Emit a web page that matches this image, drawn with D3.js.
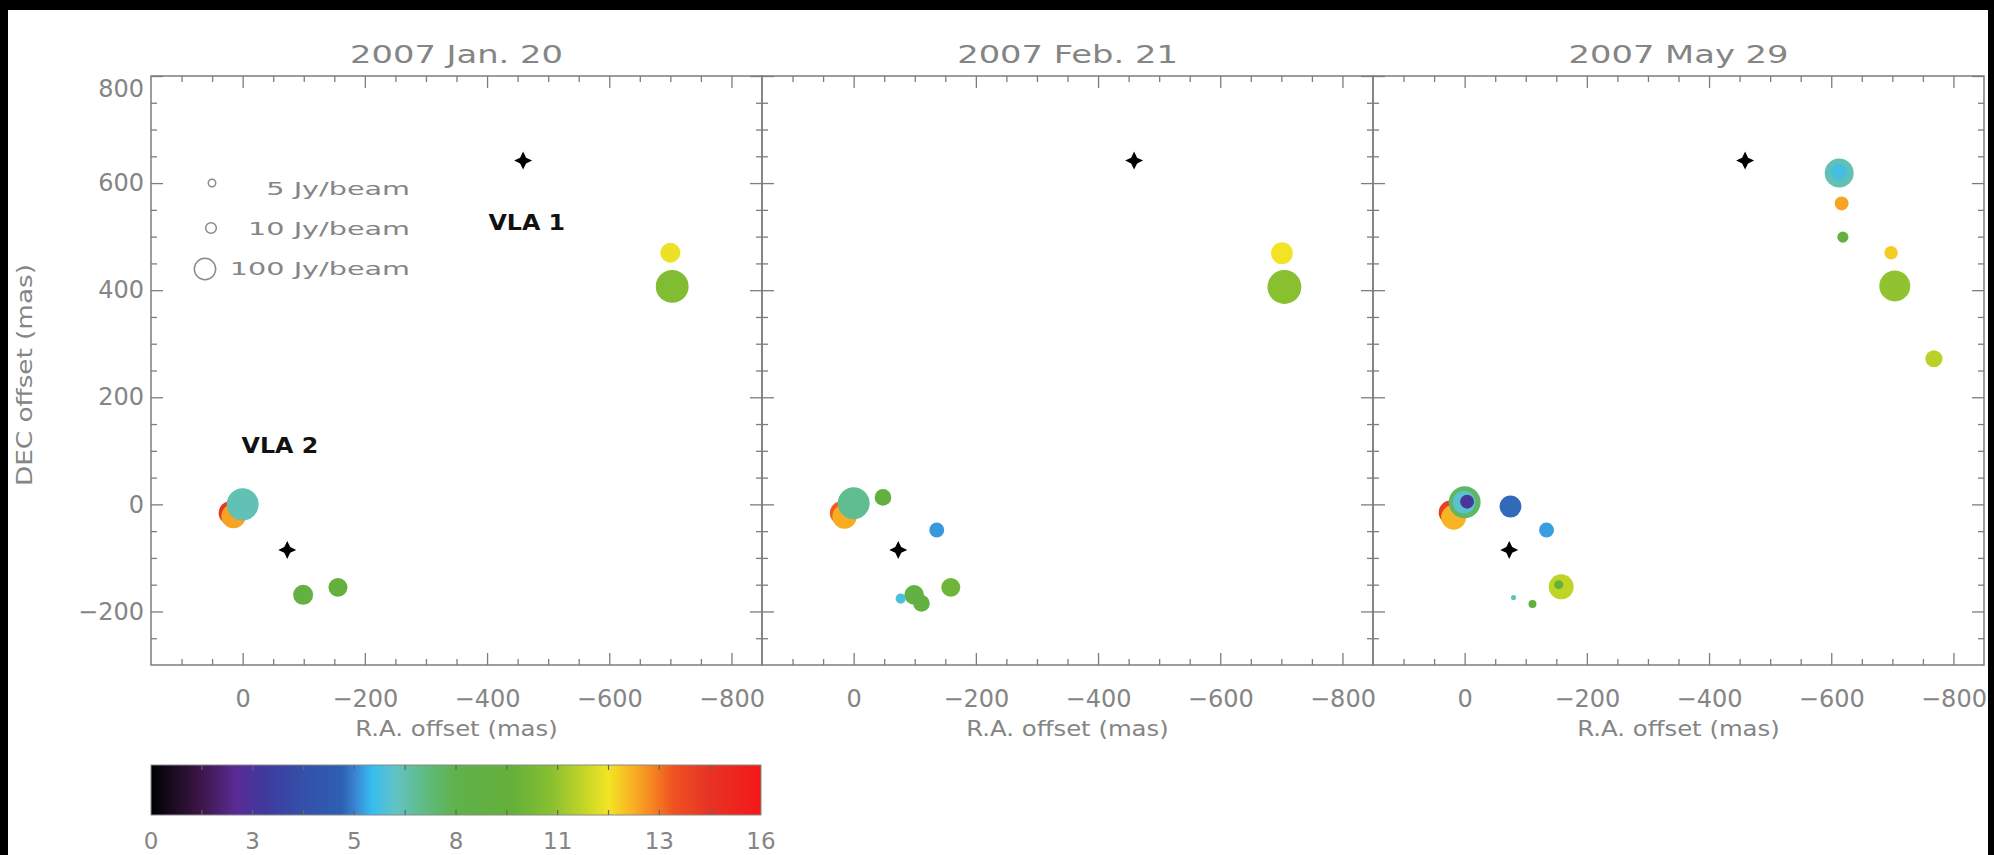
<!DOCTYPE html>
<html>
<head>
<meta charset="utf-8">
<script src="https://cdn.jsdelivr.net/npm/d3@7"></script>
<style>
  html, body { margin: 0; padding: 0; background: #000; }
  svg { display: block; }
  text { font-family: "DejaVu Sans", "Liberation Sans", sans-serif; }
</style>
</head>
<body>
<svg id="chart" width="1994" height="855"></svg>
<script>
// ---- data -------------------------------------------------------------
const epochTitles = ["2007 Jan. 20", "2007 Feb. 21", "2007 May 29"];

// maser spots: [R.A. offset (mas), DEC offset (mas), peak flux (Jy/beam), V_LSR (km/s)]
const spotsJan20 = [
  [-700, 470, 75, 11.9],
  [-703, 407, 1200, 10.3],
  [0, 0, 1000, 6.6],
  [20, -16, 160, 14.5],
  [15, -22, 190, 12.8],
  [-99, -169, 75, 8.8],
  [-156, -155, 60, 9.2]
];
const spotsFeb21 = [
  [-701, 469, 110, 12.0],
  [-705, 406, 1500, 10.5],
  [0, 2, 1000, 7.0],
  [20, -16, 150, 13.6],
  [15, -23, 190, 12.7],
  [-48, 13, 36, 8.9],
  [-136, -48, 25, 5.5],
  [-77, -176, 9, 6.1],
  [-99, -169, 70, 8.6],
  [-111, -185, 36, 8.8],
  [-159, -155, 60, 9.8]
];
const spotsMay29 = [
  [-613, 619, 520, 6.6],
  [-613, 621, 35, 6.0],
  [-617, 562, 20, 12.8],
  [-619, 499, 11, 9.0],
  [-698, 470, 18, 12.3],
  [-704, 408, 800, 10.6],
  [-768, 272, 40, 11.2],
  [0, 4, 1000, 7.6],
  [1, 4, 130, 6.3],
  [-4, 5, 20, 2.8],
  [23, -15, 170, 14.3],
  [18, -24, 220, 12.6],
  [-75, -4, 110, 5.1],
  [-134, -48, 25, 5.55],
  [-158, -154, 220, 11.3],
  [-154, -150, 7, 9.3],
  [-80, -174, 3, 6.6],
  [-111, -186, 5.6, 8.9]
];
const epochSpots = [spotsJan20, spotsFeb21, spotsMay29];

// continuum sources
const sourceNames = ["VLA 1", "VLA 2"];
const sourceRA = [-459, -73];
const sourceDEC = [642, -85];

// axis ticks
const raTicks = [0, -200, -400, -600, -800];
const decTicks = [-200, 0, 200, 400, 600, 800];
const legendFluxes = [5, 10, 100];
const velocityTickLabels = ["0", "3", "5", "8", "11", "13", "16"];

// velocity colour table: [km/s, colour]
const velocityColorStops = [
  [0.0, "#000000"], [0.5, "#170a1c"], [1.3, "#3c1548"], [2.2, "#5a2a94"],
  [3.0, "#403a9e"], [4.0, "#3450a8"], [5.0, "#2e5fb2"], [5.4, "#3a8ad8"],
  [5.8, "#35bdf0"], [6.4, "#62c3c6"], [7.2, "#5fbb80"], [8.0, "#5fb24a"],
  [9.5, "#64b03a"], [10.5, "#88c030"], [11.3, "#c0d428"], [12.0, "#f2e424"],
  [12.6, "#f8b424"], [13.2, "#f58020"], [13.7, "#ef5222"], [14.6, "#e63424"],
  [16.0, "#f41818"]
];

// ---- layout -----------------------------------------------------------
const PANEL_W = 611, TOP = 76, BOTTOM = 665, LEFT0 = 151;
const AXIS_GREY = "#7d7d7d", TEXT_GREY = "#858585";

const svg = d3.select("#chart");
svg.append("rect").attr("x", 8).attr("y", 10).attr("width", 1980).attr("height", 845).attr("fill", "#fff");

const y = d3.scaleLinear().domain([-300, 800]).range([BOTTOM, TOP]);
const r = d3.scaleLog().domain([1, 1000]).range([0, 16]);
const color = d3.scaleLinear()
  .domain(velocityColorStops.map(d => d[0]))
  .range(velocityColorStops.map(d => d[1]))
  .interpolate(d3.interpolateRgb)
  .clamp(true);

const raMinor = d3.range(100, -851, -50).filter(v => v % 200 !== 0 && v > -850);
const decMinor = d3.range(-250, 800, 50).filter(v => v % 200 !== 0);

// four-pointed star marking the continuum sources
const star4 = {
  draw(ctx, R) {
    const a = R * 0.33;
    ctx.moveTo(0, -R); ctx.lineTo(a, -a); ctx.lineTo(R, 0); ctx.lineTo(a, a);
    ctx.lineTo(0, R); ctx.lineTo(-a, a); ctx.lineTo(-R, 0); ctx.lineTo(-a, -a);
    ctx.closePath();
  }
};

// text drawn with a horizontal stretch
function wideText(g, x, yy, str, size, sx, opts = {}) {
  return g.append("text")
    .attr("transform", `translate(${x},${yy}) ${opts.rotate ? "rotate(-90)" : ""} scale(${sx},1)`)
    .attr("text-anchor", opts.anchor || "middle")
    .attr("font-size", size)
    .attr("fill", opts.fill || TEXT_GREY)
    .attr("font-weight", opts.weight || "normal")
    .text(str);
}

function styleAxis(sel) {
  sel.select(".domain").remove();
  sel.selectAll(".tick line").attr("stroke", AXIS_GREY).attr("stroke-width", 1.3);
  sel.selectAll(".tick text").attr("fill", TEXT_GREY).attr("font-size", 24)
    .attr("font-family", "DejaVu Sans, sans-serif");
}

epochSpots.forEach((spots, i) => {
  const x0 = LEFT0 + i * PANEL_W;
  const x = d3.scaleLinear().domain([150, -850]).range([x0, x0 + PANEL_W]);
  const g = svg.append("g");

  // maser spots, high velocities underneath
  const ordered = spots.slice().sort((a, b) => b[3] - a[3]);
  g.append("g").selectAll("circle").data(ordered).join("circle")
    .attr("cx", d => x(d[0]))
    .attr("cy", d => y(d[1]))
    .attr("r", d => r(d[2]))
    .attr("fill", d => color(d[3]));

  // continuum sources
  g.append("g").selectAll("path").data(sourceNames).join("path")
    .attr("transform", (d, k) => `translate(${x(sourceRA[k])},${y(sourceDEC[k])})`)
    .attr("d", d3.symbol().type(star4).size(9))
    .attr("fill", "#000");

  // frame
  g.append("rect").attr("x", x0).attr("y", TOP).attr("width", PANEL_W).attr("height", BOTTOM - TOP)
    .attr("fill", "none").attr("stroke", AXIS_GREY).attr("stroke-width", 1.5);

  // axes (ticks point inward)
  g.append("g").attr("transform", `translate(0,${BOTTOM})`)
    .call(d3.axisBottom(x).tickValues(raTicks).tickSize(-12).tickSizeOuter(0).tickPadding(25))
    .call(styleAxis);
  g.append("g").attr("transform", `translate(0,${BOTTOM})`)
    .call(d3.axisBottom(x).tickValues(raMinor).tickSize(-6).tickSizeOuter(0).tickFormat(""))
    .call(styleAxis);
  g.append("g").attr("transform", `translate(0,${TOP})`)
    .call(d3.axisTop(x).tickValues(raTicks).tickSize(-12).tickSizeOuter(0).tickFormat(""))
    .call(styleAxis);
  g.append("g").attr("transform", `translate(0,${TOP})`)
    .call(d3.axisTop(x).tickValues(raMinor).tickSize(-6).tickSizeOuter(0).tickFormat(""))
    .call(styleAxis);

  const left = d3.axisLeft(y).tickValues(decTicks).tickSize(-12).tickSizeOuter(0).tickPadding(7);
  if (i > 0) left.tickFormat("");
  g.append("g").attr("transform", `translate(${x0},0)`).call(left).call(styleAxis)
    .selectAll(".tick text").filter(d => d === 800).attr("dy", "0.85em");
  g.append("g").attr("transform", `translate(${x0},0)`)
    .call(d3.axisLeft(y).tickValues(decMinor).tickSize(-6).tickSizeOuter(0).tickFormat(""))
    .call(styleAxis);
  g.append("g").attr("transform", `translate(${x0 + PANEL_W},0)`)
    .call(d3.axisRight(y).tickValues(decTicks).tickSize(-12).tickSizeOuter(0).tickFormat(""))
    .call(styleAxis);
  g.append("g").attr("transform", `translate(${x0 + PANEL_W},0)`)
    .call(d3.axisRight(y).tickValues(decMinor).tickSize(-6).tickSizeOuter(0).tickFormat(""))
    .call(styleAxis);

  // titles
  wideText(g, x0 + PANEL_W / 2, 63, epochTitles[i], 25, 1.35);
  wideText(g, x0 + PANEL_W / 2, 736, "R.A. offset (mas)", 21, 1.16);

  if (i === 0) {
    wideText(g, 32, 375, "DEC offset (mas)", 21, 1.25, { rotate: true });

    // flux legend
    const legY = [183, 228, 269], legX = [212, 211, 205], txtY = [195, 235, 275];
    legendFluxes.forEach((f, k) => {
      g.append("circle").attr("cx", legX[k]).attr("cy", legY[k]).attr("r", r(f))
        .attr("fill", "none").attr("stroke", "#8a8a8a").attr("stroke-width", 1.5);
      wideText(g, 410, txtY[k], `${f} Jy/beam`, 18.5, 1.55, { anchor: "end" });
    });

    // source labels
    const labelPos = [[-465, 512], [-61, 96]];
    sourceNames.forEach((name, k) => {
      wideText(g, x(labelPos[k][0]), y(labelPos[k][1]), name, 22, 1.08, { fill: "#111", weight: "bold" });
    });
  }
});

// ---- velocity colour bar ---------------------------------------------
const cb = d3.scaleLinear().domain([0, 16]).range([LEFT0, LEFT0 + PANEL_W - 1]);
const CB_TOP = 765, CB_BOT = 815;
const grad = svg.append("defs").append("linearGradient").attr("id", "vgrad")
  .attr("x1", "0%").attr("x2", "100%").attr("y1", "0%").attr("y2", "0%");
velocityColorStops.forEach(([v, c]) => {
  grad.append("stop").attr("offset", `${(v / 16) * 100}%`).attr("stop-color", c);
});
svg.append("rect").attr("x", cb(0)).attr("y", CB_TOP).attr("width", cb(16) - cb(0)).attr("height", CB_BOT - CB_TOP)
  .attr("fill", "url(#vgrad)").attr("stroke", "#8a8a8a").attr("stroke-width", 1);

const cbTicks = d3.range(1, 12).map(k => k * 16 / 12);
const cbg = svg.append("g");
cbg.selectAll("line.t").data(cbTicks).join("line")
  .attr("x1", d => cb(d)).attr("x2", d => cb(d)).attr("y1", CB_TOP).attr("y2", CB_TOP + 5)
  .attr("stroke", "#666").attr("stroke-width", 1.2);
cbg.selectAll("line.b").data(cbTicks).join("line")
  .attr("x1", d => cb(d)).attr("x2", d => cb(d)).attr("y1", CB_BOT - 5).attr("y2", CB_BOT)
  .attr("stroke", "#666").attr("stroke-width", 1.2);
cbg.selectAll("text").data(velocityTickLabels).join("text")
  .attr("x", (d, k) => cb(k * 16 / 6))
  .attr("y", 849)
  .attr("text-anchor", "middle")
  .attr("font-size", 23)
  .attr("fill", TEXT_GREY)
  .text(d => d);
</script>
</body>
</html>
